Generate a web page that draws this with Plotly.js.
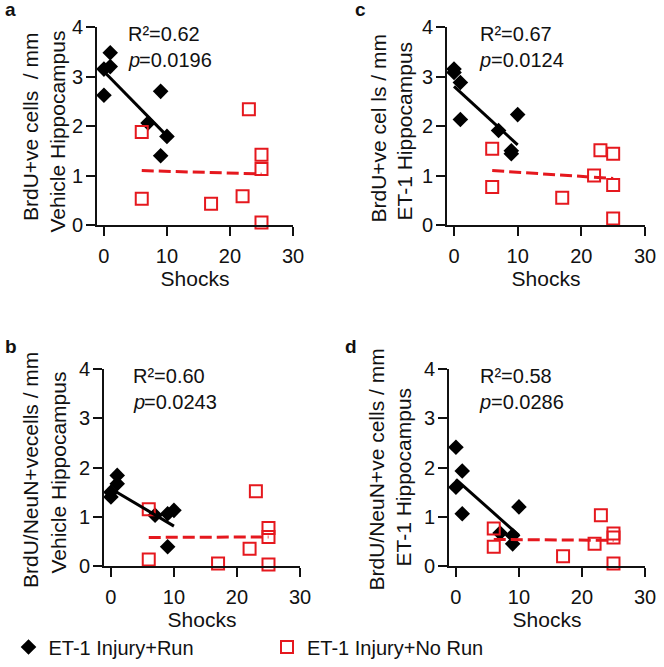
<!DOCTYPE html>
<html>
<head>
<meta charset="utf-8">
<script src="https://cdn.plot.ly/plotly-3.0.1.min.js"></script>
<style>html,body{margin:0;padding:0;background:#fff;}#chart{width:664px;height:667px;}</style>
</head>
<body>
<div id="chart"></div>
<script>
// ---------- DATA ----------
// Panel a: BrdU+ve cells / mm, Vehicle Hippocampus
const shocksRunA   = [0, 0, 1, 1, 7, 9, 9, 10];
const valuesRunA   = [3.15, 2.62, 3.20, 3.48, 2.06, 2.70, 1.40, 1.79];
const shocksNoRunA = [6, 6, 17, 22, 23, 25, 25, 25];
const valuesNoRunA = [1.88, 0.53, 0.43, 0.58, 2.34, 1.42, 1.13, 0.05];
const fitRunAx = [0, 10],  fitRunAy = [3.10, 1.80];
const fitNoRunAx = [6, 25], fitNoRunAy = [1.10, 1.03];

// Panel b: BrdU/NeuN+ve cells / mm, Vehicle Hippocampus
const shocksRunB   = [0, 0, 1, 1, 7, 9, 9, 10];
const valuesRunB   = [1.40, 1.50, 1.84, 1.67, 1.03, 1.06, 0.39, 1.13];
const shocksNoRunB = [6, 6, 17, 22, 23, 25, 25, 25];
const valuesNoRunB = [1.15, 0.13, 0.05, 0.35, 1.52, 0.77, 0.59, 0.03];
const fitRunBx = [0, 10],  fitRunBy = [1.57, 0.81];
const fitNoRunBx = [6, 25], fitNoRunBy = [0.58, 0.59];

// Panel c: BrdU+ve cells / mm, ET-1 Hippocampus
const shocksRunC   = [0, 0, 1, 1, 7, 9, 9, 10];
const valuesRunC   = [3.15, 3.08, 2.88, 2.13, 1.91, 1.50, 1.44, 2.23];
const shocksNoRunC = [6, 6, 17, 22, 23, 25, 25, 25];
const valuesNoRunC = [1.54, 0.77, 0.55, 1.00, 1.51, 1.44, 0.81, 0.13];
const fitRunCx = [0, 10],  fitRunCy = [2.80, 1.62];
const fitNoRunCx = [6, 25], fitNoRunCy = [1.10, 0.94];

// Panel d: BrdU/NeuN+ve cells / mm, ET-1 Hippocampus
const shocksRunD   = [0, 0, 1, 1, 7, 9, 9, 10];
const valuesRunD   = [2.41, 1.60, 1.93, 1.06, 0.67, 0.45, 0.62, 1.20];
const shocksNoRunD = [6, 6, 17, 22, 23, 25, 25, 25];
const valuesNoRunD = [0.76, 0.39, 0.20, 0.45, 1.03, 0.66, 0.58, 0.05];
const fitRunDx = [0, 10],  fitRunDy = [1.76, 0.62];
const fitNoRunDx = [6, 25], fitNoRunDy = [0.54, 0.52];

const seriesNames = ['ET-1 Injury+Run', 'ET-1 Injury+No Run'];
const panelLetters = ['a', 'b', 'c', 'd'];
const statsR2 = ['R\u00B2=0.62', 'R\u00B2=0.60', 'R\u00B2=0.67', 'R\u00B2=0.58'];
const statsP  = ['=0.0196', '=0.0243', '=0.0124', '=0.0286'];
const yTitleLine1 = ['BrdU+ve cells  / mm', 'BrdU/NeuN+vecells / mm', 'BrdU+ve cel ls / mm', 'BrdU/NeuN+ve cells / mm'];
const yTitleLine2 = ['Vehicle Hippocampus', 'Vehicle Hippocampus', 'ET-1 Hippocampus', 'ET-1 Hippocampus'];
const xTitle = 'Shocks';
const xTicks = [0, 10, 20, 30];
const yTicks = [0, 1, 2, 3, 4];

// ---------- STYLE / LAYOUT ----------
const W = 664, H = 667;
const FONT = 'Liberation Sans, Arial, Helvetica, sans-serif';
const INK = '#111111';
const BLACK = '#000000';
const RED = '#e5181e';
const fx = p => p / W;
const fy = p => 1 - p / H;

const panels = [
  {sr: shocksRunA, vr: valuesRunA, sn: shocksNoRunA, vn: valuesNoRunA, frx: fitRunAx, fry: fitRunAy, fnx: fitNoRunAx, fny: fitNoRunAy,
   xd: [97, 293], yd: [27, 225], t1: [30, 127], t2: [57.5, 131], letter: [2.5, 10], stat: [125.5, 34, 60]},
  {sr: shocksRunB, vr: valuesRunB, sn: shocksNoRunB, vn: valuesNoRunB, frx: fitRunBx, fry: fitRunBy, fnx: fitNoRunBx, fny: fitNoRunBy,
   xd: [104, 300], yd: [369, 566], t1: [30, 470], t2: [57.5, 472], letter: [2.5, 346], stat: [130.5, 376, 402]},
  {sr: shocksRunC, vr: valuesRunC, sn: shocksNoRunC, vn: valuesNoRunC, frx: fitRunCx, fry: fitRunCy, fnx: fitNoRunCx, fny: fitNoRunCy,
   xd: [447, 645], yd: [27, 225], t1: [377.5, 129], t2: [404, 131.5], letter: [352.5, 10], stat: [477.5, 34, 60]},
  {sr: shocksRunD, vr: valuesRunD, sn: shocksNoRunD, vn: valuesNoRunD, frx: fitRunDx, fry: fitRunDy, fnx: fitNoRunDx, fny: fitNoRunDy,
   xd: [449, 645], yd: [369, 566], t1: [375.5, 470], t2: [402.5, 477], letter: [342.5, 346], stat: [477.5, 376, 402]}
];

const traces = [];
const legendCommon = {
  orientation: 'h', xanchor: 'left', yanchor: 'middle', y: fy(647),
  font: {family: FONT, size: 20, color: INK},
  bgcolor: 'rgba(0,0,0,0)', borderwidth: 0
};
const layout = {
  width: W, height: H,
  margin: {l: 0, r: 0, t: 0, b: 0},
  paper_bgcolor: '#fff', plot_bgcolor: '#fff',
  font: {family: FONT, color: INK, size: 20},
  showlegend: true,
  legend: Object.assign({}, legendCommon, {x: fx(8.5)}),
  legend2: Object.assign({}, legendCommon, {x: fx(267)}),
  annotations: []
};

panels.forEach((p, i) => {
  const n = i + 1;
  const xa = n === 1 ? 'x' : 'x' + n;
  const ya = n === 1 ? 'y' : 'y' + n;
  traces.push({
    type: 'scatter', mode: 'markers', x: p.sr, y: p.vr, xaxis: xa, yaxis: ya,
    name: seriesNames[0], legend: 'legend', legendgroup: 'run', showlegend: i === 0, cliponaxis: false,
    marker: {symbol: 'diamond', size: 12, color: BLACK, line: {width: 0}}
  });
  traces.push({
    type: 'scatter', mode: 'markers', x: p.sn, y: p.vn, xaxis: xa, yaxis: ya,
    name: seriesNames[1], legend: 'legend2', legendgroup: 'norun', showlegend: i === 0, cliponaxis: false,
    marker: {symbol: 'square-open', size: 12, color: RED, line: {width: 2, color: RED}}
  });
  traces.push({
    type: 'scatter', mode: 'lines', x: p.frx, y: p.fry, xaxis: xa, yaxis: ya,
    showlegend: false, hoverinfo: 'skip', cliponaxis: false,
    line: {color: BLACK, width: 3}
  });
  traces.push({
    type: 'scatter', mode: 'lines', x: p.fnx, y: p.fny, xaxis: xa, yaxis: ya,
    showlegend: false, hoverinfo: 'skip', cliponaxis: false,
    line: {color: RED, width: 3, dash: '12px,5px'}
  });

  const axX = n === 1 ? 'xaxis' : 'xaxis' + n;
  const axY = n === 1 ? 'yaxis' : 'yaxis' + n;
  layout[axX] = {
    domain: [fx(p.xd[0]), fx(p.xd[1])], anchor: ya,
    range: [-1.1, 30], tickvals: xTicks, ticktext: xTicks.map(String),
    showline: true, linewidth: 2, linecolor: INK,
    ticks: 'outside', ticklen: 9, tickwidth: 2, tickcolor: INK, ticklabelstandoff: 3,
    showgrid: false, zeroline: false, fixedrange: true,
    tickfont: {family: FONT, size: 20, color: INK},
    title: {text: xTitle, standoff: 2, font: {family: FONT, size: 21, color: INK}}
  };
  layout[axY] = {
    domain: [fy(p.yd[1]), fy(p.yd[0])], anchor: xa,
    range: [0, 4], tickvals: yTicks, ticktext: yTicks.map(String),
    showline: true, linewidth: 2, linecolor: INK,
    ticks: 'outside', ticklen: 9, tickwidth: 2, tickcolor: INK, ticklabelstandoff: -1,
    showgrid: false, zeroline: false, fixedrange: true,
    tickfont: {family: FONT, size: 20, color: INK}
  };

  const ann = (x, y, text, font, extra) => layout.annotations.push(Object.assign({
    xref: 'paper', yref: 'paper', x: fx(x), y: fy(y), xanchor: 'left', yanchor: 'middle',
    showarrow: false, text: text, font: Object.assign({family: FONT, size: 20, color: INK}, font)
  }, extra || {}));

  // y-axis title, two lines (rotated)
  ann(p.t1[0], p.t1[1], yTitleLine1[i], {size: 21}, {xanchor: 'center', textangle: -90});
  ann(p.t2[0], p.t2[1], yTitleLine2[i], {size: 21}, {xanchor: 'center', textangle: -90});
  // panel letter
  ann(p.letter[0], p.letter[1], panelLetters[i], {size: 19, weight: 'bold'});
  // statistics
  ann(p.stat[0], p.stat[1], statsR2[i], {size: 20});
  ann(p.stat[0], p.stat[2], 'p', {size: 20, style: 'italic'});
  ann(p.stat[0] + 11, p.stat[2], statsP[i], {size: 20});
});

Plotly.newPlot('chart', traces, layout, {displayModeBar: false, staticPlot: true});
</script>
</body>
</html>
